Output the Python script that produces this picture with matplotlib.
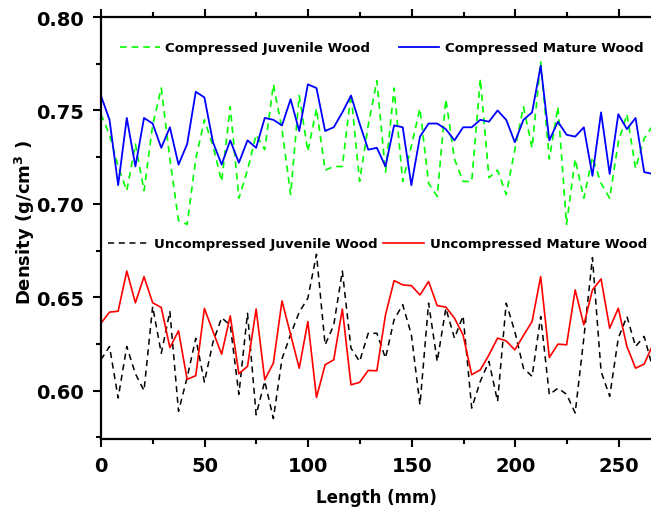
import numpy as np
import matplotlib
matplotlib.use("Agg")
import matplotlib.pyplot as plt
from matplotlib.ticker import MultipleLocator, FormatStrFormatter

# sample spacing along the specimen (mm)
step = 4.16

comp_juvenile = [0.748, 0.737, 0.720, 0.707, 0.732, 0.707, 0.742, 0.762, 0.724, 0.691,
                 0.689, 0.724, 0.745, 0.731, 0.712, 0.752, 0.703, 0.718, 0.737, 0.729,
                 0.764, 0.740, 0.705, 0.758, 0.728, 0.751, 0.718, 0.720, 0.720, 0.759,
                 0.712, 0.742, 0.766, 0.717, 0.762, 0.712, 0.731, 0.751, 0.711, 0.704,
                 0.756, 0.724, 0.712, 0.712, 0.767, 0.714, 0.718, 0.705, 0.729, 0.752,
                 0.730, 0.776, 0.724, 0.752, 0.689, 0.724, 0.703, 0.725, 0.711, 0.703,
                 0.733, 0.748, 0.719, 0.735, 0.742]
comp_mature = [0.758, 0.745, 0.710, 0.746, 0.720, 0.746, 0.743, 0.730, 0.741, 0.721,
               0.732, 0.760, 0.757, 0.733, 0.721, 0.734, 0.722, 0.734, 0.730, 0.746,
               0.745, 0.742, 0.756, 0.739, 0.764, 0.762, 0.739, 0.741, 0.749, 0.758,
               0.743, 0.729, 0.730, 0.720, 0.742, 0.741, 0.710, 0.736, 0.743, 0.743,
               0.740, 0.734, 0.741, 0.741, 0.745, 0.744, 0.750, 0.745, 0.733, 0.745,
               0.749, 0.774, 0.734, 0.744, 0.737, 0.736, 0.741, 0.715, 0.749, 0.716,
               0.748, 0.740, 0.746, 0.717, 0.716]
uncomp_juvenile = [0.6165, 0.6236, 0.596, 0.6236, 0.609, 0.600, 0.645, 0.620, 0.6423, 0.5889,
                   0.607, 0.628, 0.6045, 0.626, 0.639, 0.635, 0.598, 0.6414, 0.587, 0.605,
                   0.585, 0.617, 0.630, 0.642, 0.6495, 0.673, 0.6245, 0.635, 0.664, 0.6227,
                   0.6156, 0.6307, 0.6307, 0.6174, 0.638, 0.646, 0.630, 0.5924, 0.6468, 0.6156,
                   0.6441, 0.6281, 0.640, 0.5906, 0.605, 0.6156, 0.5942, 0.6468, 0.6316, 0.612,
                   0.6076, 0.6397, 0.5978, 0.6013, 0.598, 0.588, 0.628, 0.6712, 0.6103, 0.5969,
                   0.6281, 0.6397, 0.6236, 0.629, 0.612]
uncomp_mature = [0.636, 0.642, 0.6425, 0.664, 0.647, 0.661, 0.647, 0.6445, 0.623, 0.632,
                 0.606, 0.608, 0.644, 0.6316, 0.6195, 0.640, 0.609, 0.613, 0.6437, 0.6058,
                 0.6147, 0.648, 0.630, 0.612, 0.637, 0.5963, 0.6138, 0.6165, 0.6437, 0.6031,
                 0.6044, 0.6108, 0.6106, 0.6405, 0.6589, 0.6566, 0.6562, 0.6512, 0.6584, 0.6455,
                 0.6447, 0.6388, 0.6298, 0.6085, 0.6111, 0.6191, 0.6281, 0.6266, 0.6218, 0.6295,
                 0.637, 0.661, 0.6177, 0.6249, 0.6245, 0.6539, 0.6352, 0.6539, 0.6598, 0.6334,
                 0.6441, 0.6236, 0.612, 0.6142, 0.6245]

x = step * np.arange(len(comp_mature))

plt.rcParams['font.family'] = ['DejaVu Sans']
plt.rcParams['font.weight'] = 'bold'

fig = plt.figure(figsize=(6.51, 5.10), dpi=100)
ax = fig.add_axes([0.155, 0.137, 0.847, 0.8275])

l1, = ax.plot(x, comp_juvenile, color='#00ff00', lw=1.2, dashes=(4, 3), label='Compressed Juvenile Wood')
l2, = ax.plot(x, comp_mature, color='#0000ff', lw=1.3, label='Compressed Mature Wood')
l3, = ax.plot(x, uncomp_juvenile, color='black', lw=1.1, dashes=(4, 3), label='Uncompressed Juvenile Wood')
l4, = ax.plot(x, uncomp_mature, color='#ff0000', lw=1.2, label='Uncompressed Mature Wood')

ax.set_xlim(0, 266)
ax.set_ylim(0.574, 0.80)
ax.xaxis.set_major_locator(MultipleLocator(50))
ax.xaxis.set_minor_locator(MultipleLocator(25))
ax.yaxis.set_major_locator(MultipleLocator(0.05))
ax.yaxis.set_minor_locator(MultipleLocator(0.025))
ax.yaxis.set_major_formatter(FormatStrFormatter('%.2f'))

ax.tick_params(which='both', direction='out', top=True, right=False, width=1.5)
ax.tick_params(which='major', length=6, labelsize=14, pad=6)
ax.tick_params(which='minor', length=3.5)
for lab in ax.get_xticklabels() + ax.get_yticklabels():
    lab.set_fontweight('bold')
for s in ax.spines.values():
    s.set_linewidth(1.6)

ax.set_xlabel('Length (mm)', fontsize=12, fontweight='bold')
ax.xaxis.set_label_coords(0.5, -0.115)
ax.set_ylabel('Density (g/cm$^\\mathbf{3}$ )', fontsize=13, fontweight='bold')
ax.yaxis.set_label_coords(-0.115, 0.515)

leg1 = ax.legend(handles=[l1, l2], ncol=2, loc='center left', bbox_to_anchor=(0.034, 0.927),
                 frameon=False, fontsize=9.6, handlelength=3.0, handletextpad=0.4,
                 columnspacing=2.2, borderpad=0, borderaxespad=0)
for t in leg1.get_texts():
    t.set_fontweight('bold')
ax.add_artist(leg1)
leg2 = ax.legend(handles=[l3, l4], ncol=2, loc='center left', bbox_to_anchor=(0.012, 0.463),
                 frameon=False, fontsize=9.6, handlelength=3.1, handletextpad=0.4,
                 columnspacing=0.4, borderpad=0, borderaxespad=0)
for t in leg2.get_texts():
    t.set_fontweight('bold')

fig.savefig('out.png', dpi=100)
